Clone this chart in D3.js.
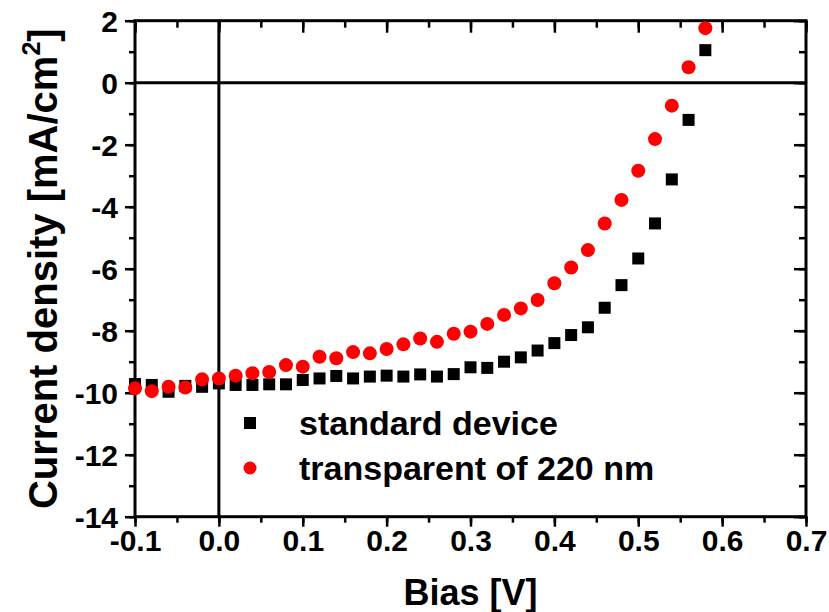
<!DOCTYPE html>
<html>
<head>
<meta charset="utf-8">
<script src="https://cdn.jsdelivr.net/npm/d3@7"></script>
<style>
  html, body { margin: 0; padding: 0; background: #fff; }
  svg text { font-family: "Liberation Sans", Arial, sans-serif; font-weight: bold; fill: #000; }
</style>
</head>
<body>
<svg id="chart" width="829" height="612"></svg>
<script>
// Bias voltages (V) at which both devices were measured
const bias = [-0.10, -0.08, -0.06, -0.04, -0.02, 0.00, 0.02, 0.04, 0.06, 0.08,
              0.10, 0.12, 0.14, 0.16, 0.18, 0.20, 0.22, 0.24, 0.26, 0.28,
              0.30, 0.32, 0.34, 0.36, 0.38, 0.40, 0.42, 0.44, 0.46, 0.48,
              0.50, 0.52, 0.54, 0.56, 0.58];

// Current density (mA/cm^2), standard device
const standardDevice = [-9.72, -9.75, -9.97, -9.78, -9.81, -9.70, -9.75, -9.75, -9.73, -9.73,
                        -9.59, -9.54, -9.46, -9.54, -9.48, -9.45, -9.48, -9.41, -9.48, -9.40,
                        -9.18, -9.20, -9.00, -8.86, -8.64, -8.40, -8.14, -7.89, -7.26, -6.53,
                        -5.67, -4.54, -3.12, -1.20, 1.05];

// Current density (mA/cm^2), transparent device of 220 nm
const transparent220 = [-9.86, -9.95, -9.81, -9.83, -9.57, -9.54, -9.45, -9.37, -9.33, -9.11,
                        -9.16, -8.84, -8.89, -8.69, -8.73, -8.59, -8.44, -8.25, -8.36, -8.10,
                        -8.03, -7.78, -7.49, -7.28, -7.01, -6.47, -5.96, -5.40, -4.54, -3.78,
                        -2.84, -1.82, -0.74, 0.50, 1.76];

const xTicks = [-0.1, 0.0, 0.1, 0.2, 0.3, 0.4, 0.5, 0.6, 0.7];
const yTicks = [2, 0, -2, -4, -6, -8, -10, -12, -14];
const seriesNames = ["standard device", "transparent of 220 nm"];

const svg = d3.select("#chart");
const plotLeft = 135, plotRight = 806, plotTop = 20.7, plotBottom = 516.7;

const x = d3.scaleLinear().domain([-0.1, 0.7]).range([plotLeft, plotRight]);
const y = d3.scaleLinear().domain([-14, 2]).range([plotBottom, plotTop]);

const xMinor = d3.range(-0.1, 0.7001, 0.05).map(v => +v.toFixed(2));
const yMinor = d3.range(-14, 2.001, 1);

// plain hyphen for negative numbers
const fmtX = d => (d < 0 ? "-" : "") + Math.abs(d).toFixed(1);
const fmtY = d => (d < 0 ? "-" : "") + Math.abs(d);

// Axis helper: draws an axis with major/minor ticks in the given direction
function drawAxis(axisFn, scale, pos, major, minor, majorLen, minorLen, labels, fmt) {
  const g = svg.append("g").attr("transform", pos);
  g.call(axisFn(scale).tickValues(minor).tickSize(minorLen).tickFormat(""))
    .call(s => s.select(".domain").remove())
    .call(s => s.selectAll(".tick line").attr("stroke", "#000").attr("stroke-width", 2.5));
  const g2 = svg.append("g").attr("transform", pos);
  g2.call(axisFn(scale).tickValues(major).tickSize(majorLen).tickPadding(5)
          .tickFormat(labels ? fmt : ""))
    .call(s => s.select(".domain").remove())
    .call(s => s.selectAll(".tick line").attr("stroke", "#000").attr("stroke-width", 2.5));
  return g2;
}

// bottom (outward ticks with labels)
const gx = drawAxis(d3.axisBottom, x, `translate(0,${plotBottom})`, xTicks, xMinor, 10, 6, true, fmtX);
gx.selectAll(".tick text").attr("font-size", 30).attr("y", 13).attr("dy", "0.71em");
// top (inward ticks)
drawAxis(d3.axisBottom, x, `translate(0,${plotTop})`, xTicks, xMinor, 12, 7, false);
// left (outward ticks with labels)
const gy = drawAxis(d3.axisLeft, y, `translate(${plotLeft},0)`, yTicks, yMinor, 10, 6, true, fmtY);
gy.selectAll(".tick text").attr("font-size", 30).attr("dy", "0.36em").attr("x", -17);
// right (inward ticks)
drawAxis(d3.axisLeft, y, `translate(${plotRight},0)`, yTicks, yMinor, 12, 7, false);

// zero lines
svg.append("line").attr("x1", plotLeft).attr("x2", plotRight).attr("y1", y(0)).attr("y2", y(0))
  .attr("stroke", "#000").attr("stroke-width", 3);
svg.append("line").attr("x1", x(0)).attr("x2", x(0)).attr("y1", plotTop).attr("y2", plotBottom)
  .attr("stroke", "#000").attr("stroke-width", 3);

// frame
svg.append("rect").attr("x", plotLeft).attr("y", plotTop)
  .attr("width", plotRight - plotLeft).attr("height", plotBottom - plotTop)
  .attr("fill", "none").attr("stroke", "#000").attr("stroke-width", 3);

// standard device: black squares
const sq = 12;
svg.append("g").selectAll("rect").data(bias.map((b, i) => [b, standardDevice[i]])).join("rect")
  .attr("x", d => x(d[0]) - sq / 2).attr("y", d => y(d[1]) - sq / 2)
  .attr("width", sq).attr("height", sq).attr("fill", "#000");

// transparent device: red circles
svg.append("g").selectAll("circle").data(bias.map((b, i) => [b, transparent220[i]])).join("circle")
  .attr("cx", d => x(d[0])).attr("cy", d => y(d[1])).attr("r", 7).attr("fill", "#ff0000");

// legend
const lg = svg.append("g");
lg.append("rect").attr("x", 250 - 6).attr("y", 423 - 6).attr("width", 12).attr("height", 12).attr("fill", "#000");
lg.append("circle").attr("cx", 250).attr("cy", 468).attr("r", 6.5).attr("fill", "#ff0000");
lg.append("text").attr("x", 299).attr("y", 435).attr("font-size", 34).text(seriesNames[0]);
lg.append("text").attr("x", 299).attr("y", 480).attr("font-size", 34).text(seriesNames[1]);

// axis titles
svg.append("text").attr("x", (plotLeft + plotRight) / 2).attr("y", 605).attr("text-anchor", "middle")
  .attr("font-size", 36).text("Bias [V]");

const yt = svg.append("text").attr("transform", `translate(57,${(plotTop + plotBottom) / 2}) rotate(-90)`)
  .attr("text-anchor", "middle").attr("font-size", 40);
yt.append("tspan").text("Current density [mA/cm");
yt.append("tspan").attr("font-size", 25).attr("dy", -17).text("2");
yt.append("tspan").attr("dy", 17).text("]");
</script>
</body>
</html>
